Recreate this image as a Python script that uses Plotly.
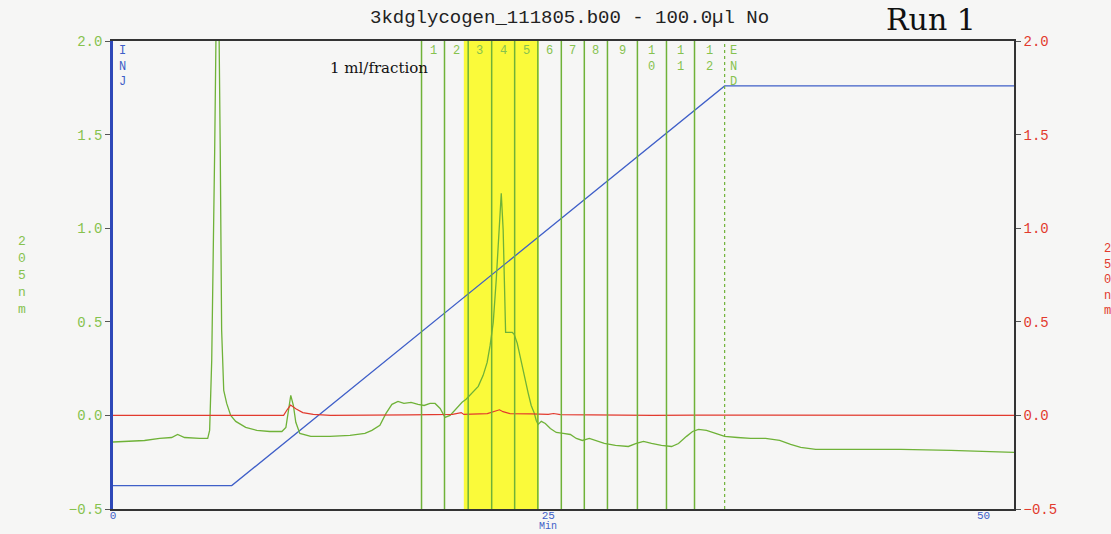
import plotly.graph_objects as go

# ---------------- data (minutes / absorbance units) ----------------
uv205_time = [0.00, 0.95, 1.81, 2.68, 3.37, 3.71, 4.11, 4.98, 5.44, 5.55, 5.67, 5.84, 6.01,
              6.16, 6.24, 6.36, 6.53, 6.76, 7.05, 7.62, 8.26, 9.00, 9.70, 9.93, 10.07, 10.21,
              10.36, 10.50, 10.73, 11.36, 12.46, 13.61, 14.47, 14.87, 15.33, 15.68, 16.02,
              16.37, 16.71, 17.12, 17.52, 17.87, 18.21, 18.50, 18.79, 19.07, 19.36, 19.71,
              20.05, 20.28, 20.63, 20.98, 21.26, 21.49, 21.66, 21.84, 22.01, 22.15, 22.30,
              22.41, 22.50, 22.55, 22.93, 23.04, 23.22, 23.45, 23.68, 23.85, 24.02, 24.20,
              24.31, 24.42, 24.60, 24.83, 25.12, 25.46, 25.86, 26.27, 26.61, 26.96, 27.36,
              27.71, 28.22, 28.86, 29.60, 30.06, 30.47, 30.93, 31.50, 32.08, 32.48, 32.94,
              33.29, 33.63, 34.09, 34.61, 35.13, 35.87, 36.62, 37.48, 38.29, 38.92, 39.50,
              40.36, 42.38, 45.25, 48.13, 51.01, 51.75]
uv205_abs = [-0.142, -0.139, -0.134, -0.123, -0.118, -0.102, -0.118, -0.123, -0.123, -0.080,
             0.294, 1.417, 2.800, 1.417, 0.455, 0.134, 0.064, 0.000, -0.032, -0.064, -0.080,
             -0.086, -0.086, -0.064, 0.016, 0.107, 0.053, -0.037, -0.096, -0.112, -0.112,
             -0.107, -0.096, -0.080, -0.053, 0.011, 0.059, 0.075, 0.064, 0.070, 0.059, 0.053,
             0.064, 0.064, 0.037, -0.011, 0.000, 0.037, 0.070, 0.086, 0.123, 0.155, 0.214,
             0.283, 0.374, 0.497, 0.722, 0.963, 1.187, 0.989, 0.615, 0.444, 0.444, 0.433,
             0.385, 0.283, 0.187, 0.118, 0.053, 0.011, -0.027, -0.048, -0.032, -0.043, -0.070,
             -0.091, -0.096, -0.102, -0.123, -0.134, -0.123, -0.134, -0.150, -0.160, -0.166,
             -0.150, -0.139, -0.150, -0.160, -0.166, -0.150, -0.112, -0.086, -0.075, -0.080,
             -0.096, -0.112, -0.118, -0.123, -0.123, -0.134, -0.155, -0.171, -0.182, -0.182,
             -0.182, -0.187, -0.193, -0.198]

uv250_time = [0.0, 9.8, 10.0, 10.2, 10.5, 10.9, 11.5, 12.5, 17.0, 19.5, 20.0, 20.15, 21.5,
              22.2, 22.4, 22.8, 24.0, 25.0, 25.3, 25.7, 31.0, 33.5, 51.75]
uv250_abs = [0.0, 0.0, 0.03, 0.055, 0.035, 0.015, 0.005, 0.0, 0.003, 0.005, 0.015, 0.005,
             0.01, 0.03, 0.02, 0.01, 0.008, 0.005, 0.01, 0.004, 0.0, 0.002, 0.0]

gradient_time = [0.0, 6.82, 35.13, 51.75]
gradient_level = [-0.375, -0.375, 1.76, 1.76]

fraction_bounds = [17.72, 19.04, 20.40, 21.75, 23.07, 24.40, 25.75, 27.07, 28.40, 30.12,
                   31.79, 33.40]
fraction_labels = ["1", "2", "3", "4", "5", "6", "7", "8", "9", "1<br>0", "1<br>1", "1<br>2"]
end_time = 35.13
highlight_start, highlight_end = 20.15, 24.45

x_ticks = [0, 25, 50]
y_ticks = [-0.5, 0.0, 0.5, 1.0, 1.5, 2.0]

# ---------------- styling ----------------
MONO = "Liberation Mono, DejaVu Sans Mono, monospace"
GREEN = "#6fb238"
GREEN_TXT = "#86c24e"
RED = "#e23a2e"
BLUE = "#3f5fc8"
BG = "#f6f6f5"

fig = go.Figure()

fig.add_trace(go.Scatter(x=gradient_time, y=gradient_level, mode="lines",
                         line=dict(color=BLUE, width=1.3), showlegend=False))
fig.add_trace(go.Scatter(x=uv250_time, y=uv250_abs, mode="lines", yaxis="y2",
                         line=dict(color=RED, width=1.2), showlegend=False))
fig.add_trace(go.Scatter(x=uv205_time, y=uv205_abs, mode="lines",
                         line=dict(color=GREEN, width=1.3), showlegend=False))

shapes = [dict(type="rect", xref="x", yref="paper", x0=highlight_start, x1=highlight_end,
               y0=0, y1=1, fillcolor="#fafa3a", line=dict(width=0), layer="below")]
for xb in fraction_bounds:
    shapes.append(dict(type="line", xref="x", yref="paper", x0=xb, x1=xb, y0=0, y1=1,
                       line=dict(color=GREEN, width=1.5), layer="above"))
shapes.append(dict(type="line", xref="x", yref="paper", x0=end_time, x1=end_time, y0=0, y1=1,
                   line=dict(color=GREEN, width=1.2, dash="dot"), layer="above"))

annotations = []
bounds_next = fraction_bounds[1:] + [end_time]
for x0, x1, lab in zip(fraction_bounds, bounds_next, fraction_labels):
    annotations.append(dict(x=(x0 + x1) / 2, y=1, xref="x", yref="paper", text=lab,
                            showarrow=False, xanchor="center", yanchor="top", yshift=-1,
                            font=dict(family=MONO, size=12, color=GREEN_TXT)))
annotations.append(dict(x=end_time, y=1, xref="x", yref="paper", text="E<br>N<br>D",
                        showarrow=False, xanchor="left", yanchor="top", xshift=3, yshift=-1,
                        font=dict(family=MONO, size=12, color=GREEN_TXT)))
annotations.append(dict(x=0, y=1, xref="x", yref="paper", text="I<br>N<br>J",
                        showarrow=False, xanchor="left", yanchor="top", xshift=4, yshift=-1,
                        font=dict(family=MONO, size=12, color=BLUE)))
annotations.append(dict(x=26.2, y=1, xref="x", yref="paper",
                        text="3kdglycogen_111805.b00 - 100.0µl No",
                        showarrow=False, xanchor="center", yanchor="middle", yshift=23,
                        font=dict(family=MONO, size=19, color="#222222")))
annotations.append(dict(x=-0.101, y=0.5, xref="paper", yref="paper",
                        text="2<br>0<br>5<br>n<br>m", showarrow=False, xanchor="center",
                        yanchor="middle", font=dict(family=MONO, size=13, color=GREEN_TXT)))
annotations.append(dict(x=1.098, y=0.49, xref="paper", yref="paper",
                        text="2<br>5<br>0<br>n<br>m", showarrow=False, xanchor="left",
                        yanchor="middle", font=dict(family=MONO, size=12, color=RED)))
annotations.append(dict(x=25, y=0, xref="x", yref="paper", text="Min", showarrow=False,
                        xanchor="center", yanchor="bottom", yshift=-25,
                        font=dict(family=MONO, size=10, color=BLUE)))
annotations.append(dict(x=47.0, y=1, xref="x", yref="paper", text="Run 1", showarrow=False,
                        xanchor="center", yanchor="middle", yshift=22,
                        font=dict(family="DejaVu Serif", size=30, color="#111111")))
annotations.append(dict(x=15.3, y=1, xref="x", yref="paper", text="1 ml/fraction",
                        showarrow=False, xanchor="center", yanchor="middle", yshift=-27,
                        font=dict(family="DejaVu Serif", size=15, color="#111111")))

fig.update_layout(
    width=1111, height=534,
    margin=dict(l=113, r=97, t=41, b=25, autoexpand=False),
    paper_bgcolor=BG, plot_bgcolor=BG,
    shapes=shapes, annotations=annotations,
    xaxis=dict(range=[0, 51.75], tickvals=x_ticks, ticks="", automargin=False,
               ticklabelstandoff=-5,
               showgrid=False, zeroline=False, showline=True,
               linecolor="#333", linewidth=1.5, mirror=True,
               tickfont=dict(family=MONO, size=11, color=BLUE)),
    yaxis=dict(range=[-0.5, 2.0], tickvals=y_ticks, tickformat=".1f", ticks="outside",
               ticklen=5, tickcolor="#555", showgrid=False, zeroline=False, showline=True,
               automargin=False, linecolor="#2e48b8", linewidth=2.5,
               tickfont=dict(family=MONO, size=14, color=GREEN_TXT)),
    yaxis2=dict(range=[-0.5, 2.0], tickvals=y_ticks, tickformat=".1f", ticks="outside",
                ticklen=5, tickcolor="#555", showgrid=False, zeroline=False, showline=True,
                automargin=False, linecolor="#333", linewidth=1.5, overlaying="y",
                side="right", tickfont=dict(family=MONO, size=14, color=RED)),
)

fig.write_html("out.html")
